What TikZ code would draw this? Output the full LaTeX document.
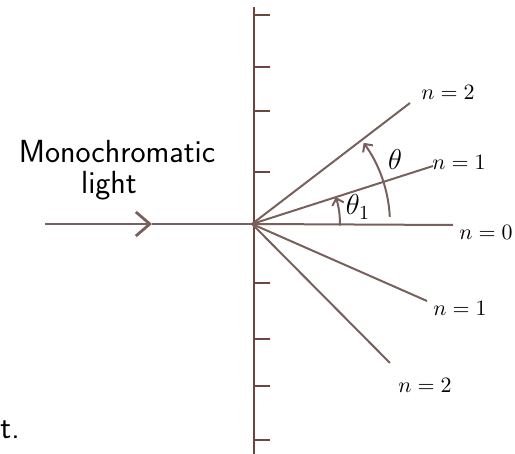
\documentclass[tikz,border=0pt]{standalone}
\usepackage{tikz}
\usetikzlibrary{arrows.meta,calc}

\definecolor{ink}{RGB}{120,96,92}
\definecolor{grat}{RGB}{110,70,62}

\tikzset{
  ray/.style={draw=ink, line width=1pt},
  tick/.style={draw=grat, line width=1.2pt},
  lbl/.style={font=\fontsize{11}{13}\selectfont, inner sep=0pt},
  anglbl/.style={font=\fontsize{14}{16}\selectfont, inner sep=0pt},
  txt/.style={font=\sffamily\fontsize{16}{18}\selectfont, inner sep=0pt}
}

\begin{document}
\begin{tikzpicture}[x=0.5pt, y=0.5pt]
\useasboundingbox (0,0) rectangle (515,454);

\coordinate (o) at (252,230);

% grating
\coordinate (gtop) at (254,447);
\coordinate (gbot) at (254,0);
\draw [draw=grat, line width=1.2pt] (gbot) to (gtop);

\draw [tick] (254,439) to (270,439);
\draw [tick] (254,387) to (270,387);
\draw [tick] (254,343) to (270,343);
\draw [tick] (254,282) to (270,282);
\draw [tick] (254,171) to (270,171);
\draw [tick] (254,115) to (270,115);
\draw [tick] (254,68) to (270,68);
\draw [tick] (254,14) to (270,14);

% incoming light
\coordinate (src) at (45,230);
\coordinate (mid) at (152,230);
\draw [ray, -{Straight Barb[length=7pt, width=12pt, line width=1.4pt]}] (src) to (mid);
\draw [ray] (mid) to (o);

% diffracted orders
\coordinate (up2) at (410,351);
\draw [ray] (o) to (up2);

\coordinate (up1) at (433,288);
\draw [ray] (o) to (up1);

\coordinate (zero) at (453,229);
\draw [ray] (o) to (zero);

\coordinate (dn1) at (427,153);
\draw [ray] (o) to (dn1);

\coordinate (dn2) at (390,91);
\draw [ray] (o) to (dn2);

% angles
\draw [ray, -{Straight Barb[length=3pt, width=6pt]}] ($(o) + (-1:88)$) arc [start angle=-1, end angle=17.8, radius=88];
\draw [ray, -{Straight Barb[length=3pt, width=6pt]}] ($(o) + (3:138)$) arc [start angle=3, end angle=36, radius=138];

%labels
\node [lbl] (lup2) at (448,362) {$n=2$};
\node [lbl] (lup1) at (459,292) {$n=1$};
\node [lbl] (lzero) at (486,222) {$n=0$};
\node [lbl] (ldn1) at (460,146) {$n=1$};
\node [lbl] (ldn2) at (425,69) {$n=2$};

\node [anglbl] (lth1) at (358,247) {$\theta_1$};
\node [anglbl] (lth) at (395,294) {$\theta$};

\node [txt] (mono) at (117,302) {Monochromatic};
\node [txt] (light) at (109,268) {light};
\node [txt, anchor=west] (tail) at (0,24) {t.};

\end{tikzpicture}
\end{document}
